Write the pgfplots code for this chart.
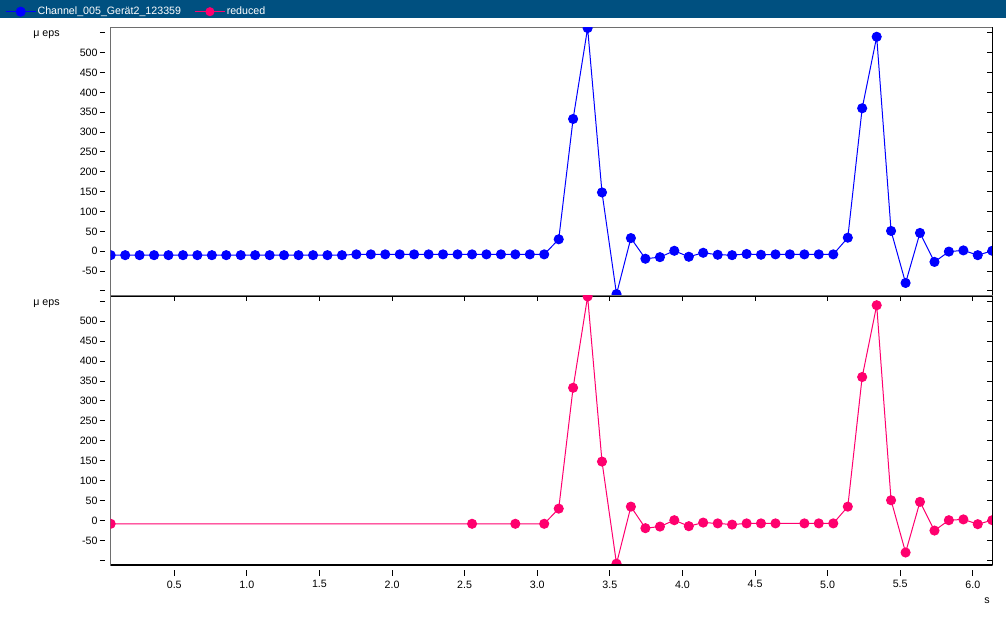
\documentclass[border=0pt]{standalone}
\usepackage{pgfplots}
\pgfplotsset{compat=1.18}
\usepackage{fontspec}
\setmainfont{Liberation Sans}

\definecolor{chblue}{RGB}{0,0,255}
\definecolor{redpink}{RGB}{255,0,110}
\definecolor{headbar}{RGB}{0,80,128}
\definecolor{framegray}{RGB}{110,110,110}

% full channel, one sample every ~0.1 s
\pgfplotstableread{
t y
0.062 -10
0.162 -10
0.261 -10
0.361 -10
0.460 -10
0.560 -10
0.659 -10
0.759 -10
0.858 -10
0.958 -10
1.057 -10
1.157 -10
1.256 -10
1.356 -10
1.456 -10
1.555 -10
1.655 -10
1.754 -8
1.854 -8
1.953 -8
2.053 -8
2.152 -8
2.252 -8
2.351 -8
2.451 -8
2.551 -8
2.650 -8
2.750 -8
2.849 -8
2.949 -8
3.048 -8
3.148 30
3.247 333
3.347 562
3.446 148
3.546 -108
3.645 33
3.745 -19
3.845 -15
3.944 1
4.044 -14
4.143 -4
4.243 -9
4.342 -10
4.442 -7
4.541 -9
4.641 -8
4.740 -8
4.840 -8
4.939 -8
5.039 -8
5.139 34
5.238 360
5.338 540
5.437 51
5.537 -80
5.636 46
5.736 -27
5.835 -1
5.935 2
6.034 -10
6.134 1
}\fullch

% reduced channel, same samples with the flat parts thinned out
\pgfplotstableread{
t y
0.062 -8
2.551 -8
2.849 -8
3.048 -8
3.148 30
3.247 333
3.347 562
3.446 148
3.546 -108
3.645 35
3.745 -19
3.845 -15
3.944 1
4.044 -14
4.143 -5
4.243 -7
4.342 -10
4.442 -7
4.541 -7
4.641 -7
4.840 -7
4.939 -7
5.039 -7
5.139 35
5.238 360
5.338 540
5.437 51
5.537 -80
5.636 47
5.736 -25
5.835 1
5.935 3
6.034 -9
6.134 1
}\reducedch

\pgfplotsset{
  panel/.style={
    scale only axis,
    width=661.2pt,
    xmin=0.062, xmax=6.134,
    ymin=-112, ymax=564,
    axis line style={framegray, line width=0.75pt},
    tick align=outside,
    major tick length=4pt,
    ytick={-100,-50,...,550},
    yticklabels={,-50,0,50,100,150,200,250,300,350,400,450,500,},
    ytick style={black, line width=0.75pt, xshift=-4pt},
    yticklabel style={font=\fontsize{8}{9.6}\selectfont, xshift=-2.3pt},
    xticklabel style={font=\fontsize{8}{9.6}\selectfont},
    clip mode=individual,
    clip marker paths=true,
    legend image code/.code={
      \draw[mark repeat=2,mark phase=2,#1] plot coordinates {(0pt,0pt) (11.25pt,0pt) (22.5pt,0pt)};
    },
  },
}

\begin{document}
\begin{tikzpicture}
\path[use as bounding box] (0pt,0pt) rectangle (754.5pt,465.75pt);
\fill[headbar] (0pt,452.25pt) rectangle (754.5pt,465.75pt);

% top panel: original channel
\begin{axis}[
  panel,
  at={(83pt,244pt)}, anchor=south west,
  height=201.3pt,
  xtick=\empty,
  legend style={at={(-0.1199,1.058)}, anchor=west, draw=none, fill=none,
    inner sep=0pt, legend columns=2, font=\fontsize{8}{9.6}\selectfont,
    nodes={inner xsep=1pt},
    /tikz/every even column/.append style={column sep=9pt}},
]
\addplot[chblue, line width=0.75pt, mark=*, mark size=3.4pt,
  mark options={fill=chblue, draw=chblue}] table[x=t, y=y] {\fullch};
\addlegendentry{\textcolor{white}{Channel\_005\_Gerät2\_123359}}
\addlegendimage{redpink, line width=0.75pt, mark=*, mark size=3pt,
  mark options={fill=redpink, draw=redpink}}
\addlegendentry{\textcolor{white}{reduced}}
\draw[black, line width=0.75pt] (rel axis cs:1,0) -- (rel axis cs:1,1);
\draw[black, line width=1.5pt] (rel axis cs:0,0) -- (rel axis cs:1,0);
\end{axis}

% bottom panel: reduced channel
\begin{axis}[
  panel,
  at={(83pt,41.8pt)}, anchor=south west,
  height=202.2pt,
  xtick={0.5,1,1.5,2,2.5,3,3.5,4,4.5,5,5.5,6},
  xticklabels={0.5,1.0,1.5,2.0,2.5,3.0,3.5,4.0,4.5,5.0,5.5,6.0},
  xtick style={black, line width=0.75pt, yshift=-3.75pt},
  xticklabel style={yshift=-4pt},
]
\addplot[redpink, line width=0.75pt, mark=*, mark size=3.4pt,
  mark options={fill=redpink, draw=redpink}] table[x=t, y=y] {\reducedch};
\draw[black, line width=0.75pt] (rel axis cs:1,0) -- (rel axis cs:1,1);
\draw[black, line width=1.5pt] (rel axis cs:0,0) -- (rel axis cs:1,0);
\end{axis}

\node[font=\fontsize{8}{9.6}\selectfont] at (34.9pt,439.5pt) {μ eps};
\node[font=\fontsize{8}{9.6}\selectfont] at (34.9pt,238.3pt) {μ eps};
\node[font=\fontsize{8}{9.6}\selectfont] at (740.3pt,15pt) {s};
\end{tikzpicture}
\end{document}
